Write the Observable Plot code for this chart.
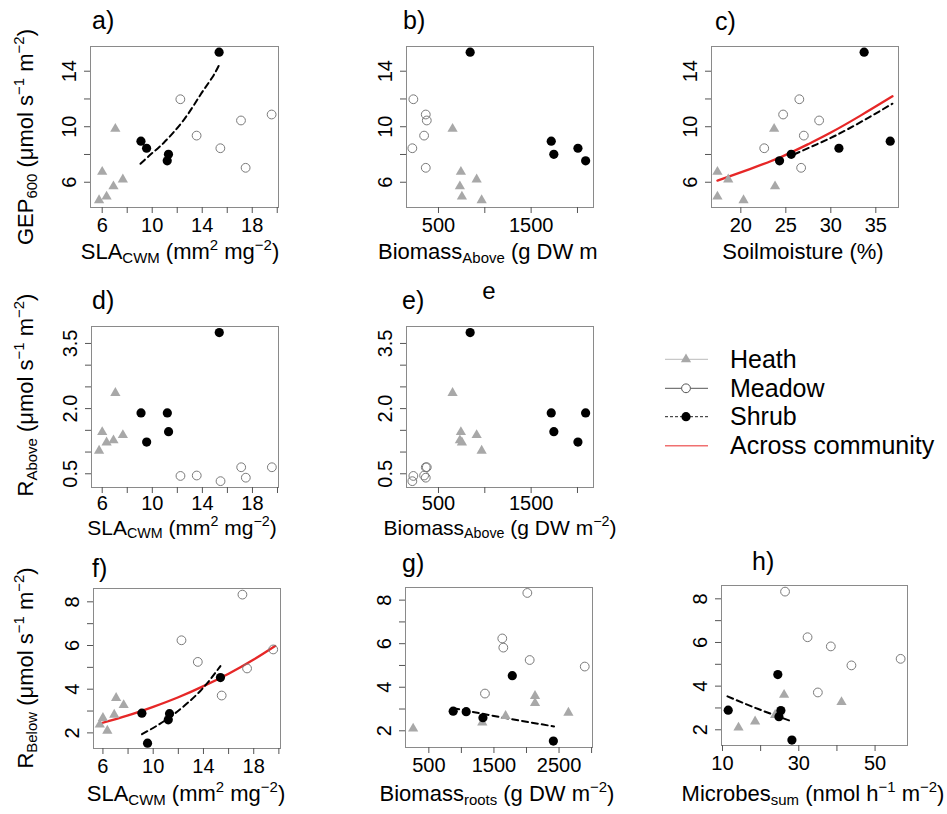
<!DOCTYPE html>
<html><head><meta charset="utf-8">
<script src="https://cdn.jsdelivr.net/npm/d3@7"></script>
<script src="https://cdn.jsdelivr.net/npm/@observablehq/plot@0.6"></script>
<style>
html,body{margin:0;padding:0;background:#fff;}
#fig{position:relative;width:947px;height:814px;overflow:hidden;font-family:"Liberation Sans",Arial,sans-serif;color:#000;}
.lbl{position:absolute;white-space:nowrap;line-height:1;}
.lbl sub,.lbl sup{font-size:68%;line-height:0;}
.lbl sub{vertical-align:-0.28em;}
.lbl sup{vertical-align:0.62em;}
</style></head><body><div id="fig"></div>
<script>
// ---- data: 17 plots (6 Heath, 6 Meadow, 5 Shrub) ----
const community = ["Heath","Heath","Heath","Heath","Heath","Heath","Meadow","Meadow","Meadow","Meadow","Meadow","Meadow","Shrub","Shrub","Shrub","Shrub","Shrub"];
const sla          = [5.75, 6.0, 6.35, 6.9, 7.05, 7.65, 12.25, 13.55, 15.45, 17.1, 17.47, 19.55, 9.1, 9.55, 11.3, 11.2, 15.35];
const biomassAbove = [966, 742, 753, 731, 652, 912, 229, 345, 218, 374, 363, 363, 1717, 2005, 1745, 2088, 842];
const soilMoisture = [20.3, 17.4, 17.4, 23.8, 23.7, 18.6, 26.5, 27.0, 22.6, 28.7, 26.7, 24.7, 36.6, 30.9, 25.6, 24.3, 33.7];
const gep600       = [4.7, 6.75, 4.97, 5.7, 9.85, 6.2, 11.98, 9.36, 8.45, 10.45, 7.04, 10.88, 8.96, 8.45, 8.01, 7.54, 15.37];
const rAbove       = [1.03, 1.46, 1.22, 1.27, 2.36, 1.39, 0.45, 0.46, 0.33, 0.65, 0.41, 0.65, 1.9, 1.23, 1.47, 1.9, 3.75];
const rBelow       = [2.38, 2.68, 2.1, 2.83, 3.6, 3.27, 6.24, 5.25, 3.71, 8.33, 4.95, 5.82, 2.9, 1.53, 2.88, 2.6, 4.53];
const biomassRoots = [1321, 1679, 259, 2644, 2131, 2131, 1628, 2049, 1362, 2013, 2895, 1644, 874, 2413, 1074, 1331, 1782];
const microbes     = [18.55, 23.8, 14.2, 25.0, 26.15, 41.2, 32.3, 56.7, 35.0, 26.4, 43.8, 38.4, 11.5, 28.2, 25.3, 24.8, 24.5];

// ---- fitted curves ----
const fitA_shrub_x = [9.06, 10.0, 10.93, 12.53, 13.86, 14.8, 15.33];
const fitA_shrub_y = [7.33, 8.1, 8.85, 10.5, 12.3, 13.55, 14.41];
const fitC_all_x   = [17.4, 21, 24.4, 27.5, 30, 33.3, 36.85];
const fitC_all_y   = [6.12, 6.95, 7.8, 8.75, 9.58, 10.8, 12.19];
const fitC_shrub_x = [25.9, 28.5, 30.7, 33.5, 36.85];
const fitC_shrub_y = [8.0, 8.75, 9.42, 10.4, 11.66];
const fitF_all_x   = [5.78, 8, 10, 12, 14, 16, 18, 19.7];
const fitF_all_y   = [2.43, 2.8, 3.19, 3.63, 4.14, 4.71, 5.36, 5.98];
const fitF_shrub_x = [9.11, 10.5, 11.9, 13.75, 15.35];
const fitF_shrub_y = [1.94, 2.4, 2.97, 3.92, 5.06];
const fitG_shrub_x = [874, 1650, 2423];
const fitG_shrub_y = [3.04, 2.6, 2.2];
const fitH_shrub_x = [11.31, 19.4, 27.46];
const fitH_shrub_y = [3.53, 2.95, 2.43];

// ---- ticks and labels ----
const slaTicks = [6,8,10,12,14,16,18,20], slaLabels = [6,10,14,18];
const gepTicks = [6,8,10,12,14], gepLabels = [6,10,14];
const bioATicks = [500,1000,1500,2000], bioALabels = [500,1500];
const soilTicks = [20,25,30,35], soilLabels = [20,25,30,35];
const rATicks = [0.5,1,1.5,2,2.5,3,3.5], rALabels = [0.5,2,3.5];
const rBTicks = [2,3,4,5,6,7,8], rBLabels = [2,4,6,8];
const rootTicks = [500,1000,1500,2000,2500,3000], rootLabels = [500,1500,2500];
const micTicks = [10,20,30,40,50], micLabels = [10,30,50];
const legendLabels = ["Heath","Meadow","Shrub","Across community"];

const rows = community.map((c,i)=>({community:c, sla:sla[i], biomassAbove:biomassAbove[i], soilMoisture:soilMoisture[i],
  gep600:gep600[i], rAbove:rAbove[i], rBelow:rBelow[i], biomassRoots:biomassRoots[i], microbes:microbes[i]}));
const zip = (xs, ys) => xs.map((x,i)=>({x, y: ys[i]}));

const fig = document.getElementById("fig");
const FONT = "'Liberation Sans', Arial, sans-serif";

function fmtFor(labels, f) { return d => labels.includes(d) ? f(d) : ""; }

function panel(p) {
  const [fx0, fy0, fx1, fy1] = p.frame;
  const mL = 80, mT = 12, mR = 14, mB = 42;
  const width = Math.round(fx1 - fx0) + mL + mR, height = Math.round(fy1 - fy0) + mT + mB;
  const fits = (p.fits || []).map(f => Plot.line(zip(f.x, f.y), {x:"x", y:"y", curve:"natural",
      stroke: f.red ? "#e62727" : "black", strokeWidth: f.red ? 2.3 : 2, strokeDasharray: f.red ? null : "6,4"}));
  const chart = Plot.plot({
    width, height, marginLeft: mL, marginTop: mT, marginRight: mR, marginBottom: mB,
    x: {domain: p.xDomain}, y: {domain: p.yDomain},
    style: {fontFamily: FONT, fontSize: "20px", background: "transparent", overflow: "visible"},
    marks: [
      Plot.frame({stroke: "#8a8a8a"}),
      Plot.axisX({ticks: p.xTicks, tickFormat: fmtFor(p.xLabels, p.xFmt || String), tickSize: 6, tickPadding: p.xPad ?? 4, stroke: "#555", label: null}),
      Plot.axisY({ticks: p.yTicks, tickFormat: fmtFor(p.yLabels, p.yFmt || String), tickRotate: -90, tickSize: 6, tickPadding: 9, stroke: "#555", label: null}),
      ...fits,
      Plot.dot(rows.filter(d=>d.community==="Heath"), {x: p.x, y: p.y, symbol: "triangle", fill: "#a8a8a8", r: 3.8}),
      Plot.dot(rows.filter(d=>d.community==="Meadow"), {x: p.x, y: p.y, symbol: "circle", fill: "none", stroke: "#7a7a7a", strokeWidth: 1, r: 4.4}),
      Plot.dot(rows.filter(d=>d.community==="Shrub"), {x: p.x, y: p.y, symbol: "circle", fill: "black", r: 4.6}),
    ]
  });
  chart.style.position = "absolute";
  chart.style.left = (fx0 - mL) + "px";
  chart.style.top = (fy0 - mT) + "px";
  chart.style.maxWidth = "none";
  fig.appendChild(chart);
}

const f1 = d3.format(".1f");
panel({frame:[90,46,278,206.8], x:"sla", y:"gep600", xDomain:[5.064,20.1], yDomain:[4.18,15.78],
  xTicks:slaTicks, xLabels:slaLabels, yTicks:gepTicks, yLabels:gepLabels, fits:[{x:fitA_shrub_x, y:fitA_shrub_y}]});
panel({frame:[405.7,46,592.7,206.8], x:"biomassAbove", y:"gep600", xDomain:[155,2173], yDomain:[4.18,15.78],
  xTicks:bioATicks, xLabels:bioALabels, yTicks:gepTicks, yLabels:gepLabels});
panel({frame:[710.7,46,897.7,206.8], x:"soilMoisture", y:"gep600", xDomain:[16.74,37.52], yDomain:[4.18,15.78],
  xTicks:soilTicks, xLabels:soilLabels, yTicks:gepTicks, yLabels:gepLabels,
  fits:[{x:fitC_all_x, y:fitC_all_y, red:true},{x:fitC_shrub_x, y:fitC_shrub_y}]});
panel({frame:[91,326.3,277.7,487], x:"sla", y:"rAbove", xDomain:[5.144,20.08], yDomain:[0.184,3.89], xPad:2,
  xTicks:slaTicks, xLabels:slaLabels, yTicks:rATicks, yLabels:rALabels, yFmt:f1});
panel({frame:[405.7,326.3,592.7,487], x:"biomassAbove", y:"rAbove", xDomain:[155,2173], yDomain:[0.184,3.89], xPad:2,
  xTicks:bioATicks, xLabels:bioALabels, yTicks:rATicks, yLabels:rALabels, yFmt:f1});
panel({frame:[93.3,588.3,280,748.3], x:"sla", y:"rBelow", xDomain:[5.25,20.13], yDomain:[1.285,8.61],
  xTicks:slaTicks, xLabels:slaLabels, yTicks:rBTicks, yLabels:rBLabels,
  fits:[{x:fitF_all_x, y:fitF_all_y, red:true},{x:fitF_shrub_x, y:fitF_shrub_y}]});
panel({frame:[405,586.7,591.7,746.7], x:"biomassRoots", y:"rBelow", xDomain:[141.5,3014], yDomain:[1.233,8.58],
  xTicks:rootTicks, xLabels:rootLabels, yTicks:rBTicks, yLabels:rBLabels, fits:[{x:fitG_shrub_x, y:fitG_shrub_y}]});
panel({frame:[720.7,585,906.7,745], x:"microbes", y:"rBelow", xDomain:[9.74,58.5], yDomain:[1.28,8.61],
  xTicks:micTicks, xLabels:micLabels, yTicks:rBTicks, yLabels:rBLabels, fits:[{x:fitH_shrub_x, y:fitH_shrub_y}]});

// ---- text labels ----
function label(html, x, y, {size=22, rotate=false, center=true} = {}) {
  const d = document.createElement("div");
  d.className = "lbl";
  d.innerHTML = html;
  d.style.left = x + "px"; d.style.top = y + "px"; d.style.fontSize = size + "px";
  if (center) d.style.transform = "translate(-50%,-50%)" + (rotate ? " rotate(-90deg)" : "");
  fig.appendChild(d);
}
const unitFlux = "(μmol s<sup>−1</sup> m<sup>−2</sup>)";
const slaLab = "SLA<sub>CWM</sub> (mm<sup>2</sup> mg<sup>−2</sup>)";
// panel letters
[["a)",92,8],["b)",403,8],["c)",715,9],["d)",92,288],["e)",402,288],["f)",92,556],["g)",402,551],["h)",752,549]]
  .forEach(([t,x,y]) => label(t, x, y, {size:25, center:false}));
label("e", 489, 291, {size:24});
// x titles
label(slaLab, 180, 252);
label("Biomass<sub>Above</sub> (g DW m", 378, 241, {center:false});
label("Soilmoisture (%)", 803, 252);
label(slaLab, 182, 527, {size:21});
label("Biomass<sub>Above</sub> (g DW m<sup>−2</sup>)", 500, 527, {size:21});
label(slaLab, 186, 794);
label("Biomass<sub>roots</sub> (g DW m<sup>−2</sup>)", 497, 794);
label("Microbes<sub>sum</sub> (nmol h<sup>−1</sup> m<sup>−2</sup>)", 813, 794);
// y titles
label("GEP<sub>600</sub> " + unitFlux, 26, 137, {rotate:true});
label("R<sub>Above</sub> " + unitFlux, 26, 395, {rotate:true});
label("R<sub>Below</sub> " + unitFlux, 26, 668, {rotate:true});

// ---- legend ----
const lg = d3.select(fig).append("svg").attr("width", 300).attr("height", 130)
  .style("position","absolute").style("left","650px").style("top","340px");
const ys = [19.3, 48.3, 76.7, 105.7];
const styles = [
  {stroke:"#c8c8c8", dash:null, w:1.2},
  {stroke:"#555", dash:null, w:1},
  {stroke:"#222", dash:"3,2", w:1},
  {stroke:"#f07070", dash:null, w:1.5}
];
legendLabels.forEach((t,i) => {
  const g = lg.append("g").attr("transform", `translate(0,${ys[i]})`);
  g.append("line").attr("x1",15).attr("x2",58).attr("y1",0).attr("y2",0)
    .attr("stroke",styles[i].stroke).attr("stroke-width",styles[i].w).attr("stroke-dasharray",styles[i].dash);
  if (i===0) g.append("path").attr("d", d3.symbol(d3.symbolTriangle, Math.PI*3.8*3.8)()).attr("transform","translate(36,0)").attr("fill","#a8a8a8");
  if (i===1) g.append("circle").attr("cx",36).attr("r",4.4).attr("fill","white").attr("stroke","#555");
  if (i===2) g.append("circle").attr("cx",36).attr("r",4.6).attr("fill","black");
  g.append("text").attr("x",80).attr("y",0).attr("dy","0.35em").attr("font-size",25).attr("font-family",FONT).text(t);
});
</script></body></html>
